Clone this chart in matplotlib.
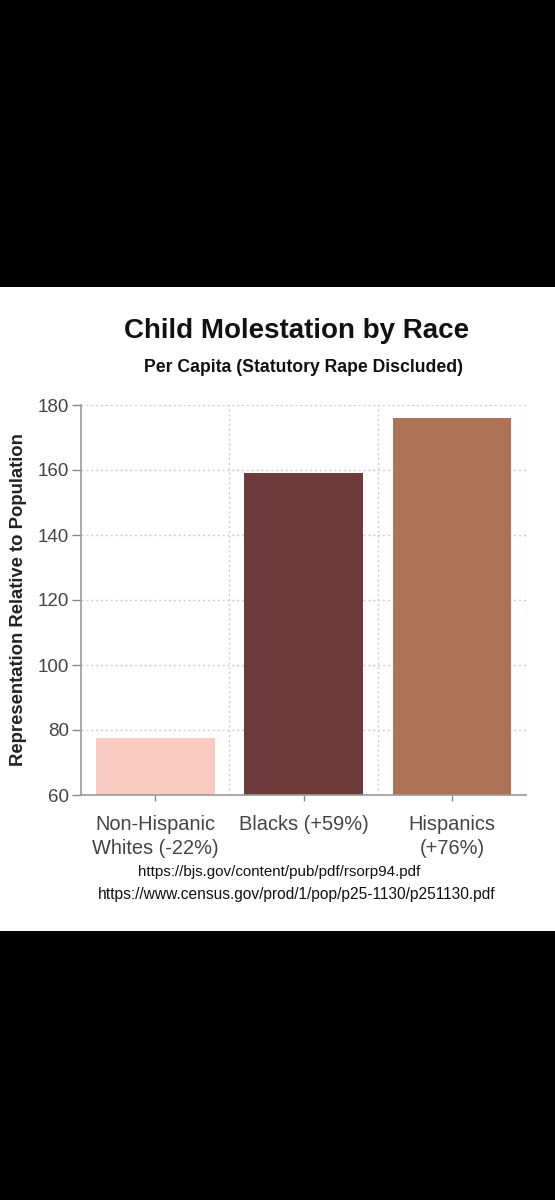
import matplotlib
matplotlib.use("Agg")
import matplotlib.pyplot as plt
from matplotlib.patches import Rectangle

categories = ["Non-Hispanic\nWhites (-22%)", "Blacks (+59%)", "Hispanics\n(+76%)"]
values = [77.4, 159.0, 176.0]
colors = ["#F9CBC1", "#6C3A38", "#AE7357"]
yticks = [60, 80, 100, 120, 140, 160, 180]
title = "Child Molestation by Race"
subtitle = "Per Capita (Statutory Rape Discluded)"
ylabel = "Representation Relative to Population"
sources = ["https://bjs.gov/content/pub/pdf/rsorp94.pdf",
           "https://www.census.gov/prod/1/pop/p25-1130/p251130.pdf"]

plt.rcParams['font.family'] = ['Liberation Sans', 'DejaVu Sans']

W, H = 555, 1200
fig = plt.figure(figsize=(W / 100, H / 100), dpi=100)
fig.patch.set_facecolor("black")

def fy(y):
    return 1 - y / H

# white panel
fig.patches.append(Rectangle((0, fy(931)), 1, (931 - 287) / H, transform=fig.transFigure,
                             facecolor="white", edgecolor="none", zorder=-10))

ax = fig.add_axes([81 / W, fy(795), (526 - 81) / W, (795 - 405) / H])
ax.set_zorder(5)
ax.set_facecolor("white")
x = list(range(len(categories)))
ax.bar(x, values, width=0.8, color=colors, zorder=2)
ax.set_xlim(-0.5, 2.5)
ax.set_ylim(60, 180)
ax.set_yticks(yticks)
ax.set_xticks(x)
ax.set_xticklabels(categories, fontsize=14.4, color="#444444", linespacing=1.32)
ax.tick_params(axis="y", labelsize=13.5, colors="#888888", length=6.5, width=1, pad=2)
ax.tick_params(axis="x", colors="#888888", length=4.5, width=1, pad=10)
for lbl in ax.get_xticklabels():
    lbl.set_color("#444444")
for lbl in ax.get_yticklabels():
    lbl.set_color("#444444")

for yv in yticks[1:]:
    ax.axhline(yv, color="#cfcfcf", linestyle=(0, (1.5, 2)), linewidth=1, zorder=1)
for xv in [0.5, 1.5, 2.5]:
    ax.axvline(xv, color="#cfcfcf", linestyle=(0, (1.5, 2)), linewidth=1, zorder=1)

for s in ["top", "right"]:
    ax.spines[s].set_visible(False)
for s in ["left", "bottom"]:
    ax.spines[s].set_color("#999999")
    ax.spines[s].set_linewidth(1.2)

ax.set_ylabel(ylabel, fontsize=13.3, fontweight="bold", color="#222222")
ax.yaxis.set_label_coords(-54 / (526 - 81), 0.5)

fig.text(297 / W, fy(331), title, ha="center", va="center", fontsize=20,
         fontweight="bold", color="#111111", zorder=6)
fig.text(304 / W, fy(368), subtitle, ha="center", va="center", fontsize=12.7,
         fontweight="bold", color="#111111", zorder=6)
fig.text(279 / W, fy(872), sources[0], ha="center", va="center", fontsize=10.9,
         color="#111111", zorder=6)
fig.text(297 / W, fy(894), sources[1], ha="center", va="center", fontsize=11.2,
         color="#111111", zorder=6)

fig.savefig("out.png", dpi=100, facecolor="black")
